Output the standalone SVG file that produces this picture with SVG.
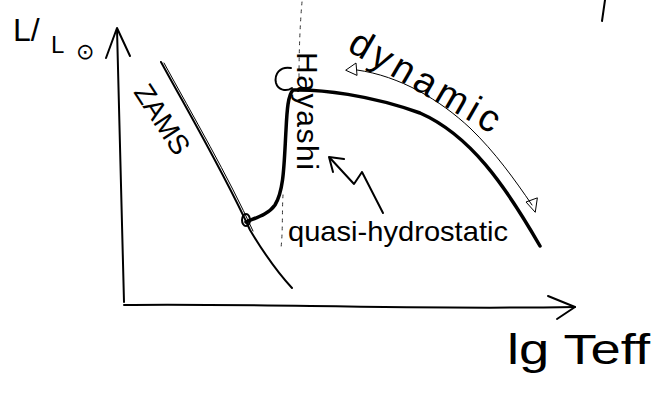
<svg xmlns="http://www.w3.org/2000/svg" width="659" height="394" viewBox="0 0 659 394">
<style>
.ink{fill:none;stroke:#000;stroke-linecap:round;stroke-linejoin:round}
.ax{stroke-width:2}
.trk{stroke-width:3.5}
.thin{stroke-width:1}
.dash{stroke-width:1;stroke-dasharray:3 5;stroke:#333}
.t{font-family:"Liberation Sans","DejaVu Sans",sans-serif;fill:#000}
</style>
<rect width="659" height="394" fill="#fff"/>
<g id="axes">
<path class="ink ax" d="M117,29 C119,100 121,200 124,302"/>
<path class="ink ax" d="M106,58 L117,28 L130,56"/>
<path class="ink ax" d="M124,305 C250,303 400,310 575,307"/>
<path class="ink ax" d="M548,296 L575,307 L557,319"/>
</g>
<g id="ylabel">
<text class="t" x="13" y="41" font-size="32">L/</text>
<text class="t" x="51" y="53" font-size="24">L</text>
<text class="t" x="76" y="59" font-size="22" font-family="DejaVu Sans">⊙</text>
</g>
<g id="xlabel">
<text class="t" x="507" y="364" font-size="42" textLength="143" lengthAdjust="spacingAndGlyphs">lg Teff</text>
</g>
<g id="zams">
<path class="ink ax" d="M161,62 C190,115 225,175 250,230 C265,255 280,275 292,288"/>
<path class="ink thin" d="M164,63 C193,116 228,176 253,231"/>
<text class="t" font-size="28" transform="translate(133,92) rotate(57)">ZAMS</text>
</g>
<g id="track">
<ellipse class="ink ax" cx="246" cy="220" rx="4" ry="6"/>
<path class="ink trk" d="M246,222 C255,218 268,215 275,205 C284,190 284,165 286,130 C287,110 288,95 293,90 C320,89 370,95 420,113 C470,135 505,185 540,246"/>
<path class="ink ax" d="M291,68 C280,66 274,74 276,83 C278,90 286,92 292,88"/>
<path class="ink dash" d="M302,2 C300,25 299,50 299,80"/>
<path class="ink dash" d="M283,195 C282,210 283,230 281,248"/>
<text class="t" font-size="30" transform="translate(297,52) rotate(90)" textLength="118" lengthAdjust="spacing">Hayashi</text>
</g>
<g id="labels">
<text class="t" font-size="38" transform="translate(346,50) rotate(30)" textLength="168" lengthAdjust="spacing">dynamic</text>
<text class="t" x="288" y="241" font-size="28" textLength="220" lengthAdjust="spacingAndGlyphs">quasi-hydrostatic</text>
</g>
<g id="connectors">
<path class="ink thin" d="M357,70 C400,76 440,100 470,128 C495,152 515,180 532,205"/>
<path class="ink thin" d="M346,70 L356,63 L357,75 Z"/>
<path class="ink thin" d="M535,212 L526,202 L537,198 Z"/>
<path class="ink ax" d="M383,213 L362,172 L354,184 L330,158"/>
<path class="ink ax" d="M344,159 L329,157 L333,172"/>
</g>
<g id="mark">
<path class="ink ax" d="M605,0 L602,21"/>
</g>
</svg>
